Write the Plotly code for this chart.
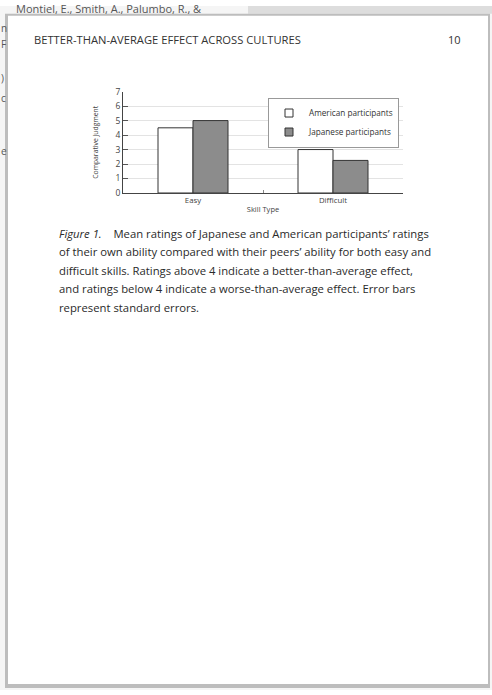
import plotly.graph_objects as go

W, H = 492, 695

skill_types = ["Easy", "Difficult"]
american = [4.5, 3.0]
japanese = [5.0, 2.25]
y_ticks = [0, 1, 2, 3, 4, 5, 6, 7]
series_names = ["American participants", "Japanese participants"]

header = "BETTER-THAN-AVERAGE EFFECT ACROSS CULTURES"
page_no = "10"
caption_lines = [
    "<i>Figure 1.</i>    Mean ratings of Japanese and American participants\u2019 ratings",
    "of their own ability compared with their peers\u2019 ability for both easy and",
    "difficult skills. Ratings above 4 indicate a better-than-average effect,",
    "and ratings below 4 indicate a worse-than-average effect. Error bars",
    "represent standard errors.",
]

def px(x):
    return x / W

def py(y):
    return 1 - y / H

FONT = "Open Sans"
AM_COLOR = "white"
JP_COLOR = "#8c8c8c"
EDGE = "#333333"

fig = go.Figure()
fig.add_trace(go.Bar(
    x=skill_types, y=american, name=series_names[0], showlegend=False,
    marker=dict(color=AM_COLOR, line=dict(color=EDGE, width=1)),
))
fig.add_trace(go.Bar(
    x=skill_types, y=japanese, name=series_names[1], showlegend=False,
    marker=dict(color=JP_COLOR, line=dict(color=EDGE, width=1)),
))
# legend entries with small square symbols
for name, col in zip(series_names, [AM_COLOR, JP_COLOR]):
    fig.add_trace(go.Scatter(
        x=[None], y=[None], mode="markers", name=name,
        marker=dict(symbol="square", size=8, color=col, line=dict(color=EDGE, width=1)),
    ))

shapes = [
    dict(type="rect", xref="paper", yref="paper", x0=px(0), x1=px(W), y0=py(H), y1=py(0),
         fillcolor="#f5f5f5", line=dict(width=0), layer="below"),
    dict(type="rect", xref="paper", yref="paper", x0=px(248), x1=px(W), y0=py(8), y1=py(0),
         fillcolor="#dddddd", line=dict(width=0), layer="below"),
    dict(type="rect", xref="paper", yref="paper", x0=px(5), x1=px(490), y0=py(693), y1=py(8),
         fillcolor="#bdbdbd", line=dict(width=0), layer="below"),
    dict(type="rect", xref="paper", yref="paper", x0=px(8), x1=px(488), y0=py(689), y1=py(10),
         fillcolor="white", line=dict(width=0), layer="below"),
]

annotations = [
    dict(text="Montiel, E., Smith, A., Palumbo, R., &", x=px(14), y=py(3), xref="paper", yref="paper",
         xanchor="left", yanchor="middle", showarrow=False,
         font=dict(family=FONT, size=11, color="#555555")),
    dict(text=header, x=px(32), y=py(34), xref="paper", yref="paper",
         xanchor="left", yanchor="middle", showarrow=False,
         font=dict(family=FONT, size=11.2, color="#333333")),
    dict(text=page_no, x=px(463), y=py(34), xref="paper", yref="paper",
         xanchor="right", yanchor="middle", showarrow=False,
         font=dict(family=FONT, size=11, color="#333333")),
]
for fr, yy in [("n", 22), ("F", 39), (")", 73), ("c", 93), ("e", 147)]:
    annotations.append(dict(text=fr, x=px(-1), y=py(yy), xref="paper", yref="paper",
                            xanchor="left", yanchor="middle", showarrow=False,
                            font=dict(family=FONT, size=10, color="#555555")))

for i, line in enumerate(caption_lines):
    annotations.append(dict(text=line, x=px(57), y=py(231 + i * 18.8), xref="paper", yref="paper",
                            xanchor="left", yanchor="middle", showarrow=False,
                            font=dict(family=FONT, size=11.3, color="#2a2a2a")))

fig.update_layout(
    width=W, height=H,
    margin=dict(l=0, r=0, t=0, b=0),
    paper_bgcolor="white", plot_bgcolor="rgba(0,0,0,0)",
    barmode="group", bargap=0.5, bargroupgap=0,
    showlegend=True,
    legend=dict(x=px(268), y=py(93), xanchor="left", yanchor="top",
                bgcolor="white", bordercolor="#999999", borderwidth=1,
                font=dict(family=FONT, size=8.2, color="#333333"),
                itemwidth=30, tracegroupgap=0, itemsizing="trace"),
    xaxis=dict(domain=[px(123), px(403)], anchor="y", range=[-0.5, 1.5],
               showline=True, linecolor="#444444", linewidth=1,
               ticks="inside", tickson="boundaries", ticklen=3, tickcolor="#888888",
               tickfont=dict(family=FONT, size=7.8, color="#444444"),
               title=dict(text="Skill Type", font=dict(family=FONT, size=7.5, color="#444444"), standoff=2),
               showgrid=False),
    yaxis=dict(domain=[py(190), py(87)], anchor="x", range=[0, 7],
               tickvals=y_ticks, showline=True, linecolor="#444444", linewidth=1,
               ticks="inside", ticklen=5, tickcolor="#555555",
               tickfont=dict(family=FONT, size=8.5, color="#444444"),
               showgrid=True, gridcolor="#e3e3e3", gridwidth=1, zeroline=False,
               title=dict(text="Comparative Judgment", font=dict(family=FONT, size=6.8, color="#444444"), standoff=16)),
    shapes=shapes,
    annotations=annotations,
)

fig.write_html("out.html", config={"displayModeBar": False},
               post_script="document.body.style.margin='0';")
